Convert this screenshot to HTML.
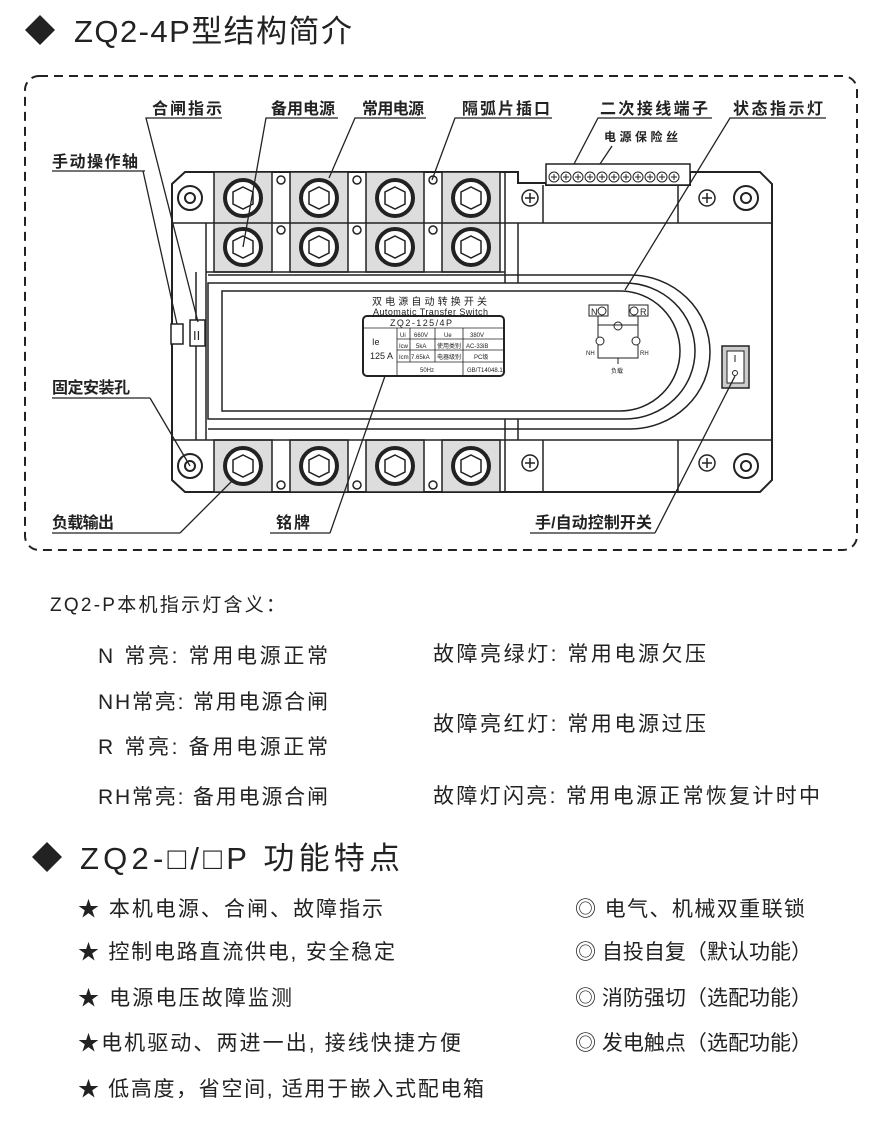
<!DOCTYPE html>
<html><head><meta charset="utf-8"><style>
body{margin:0;background:#fff;}
svg text{font-family:"Liberation Sans","Noto Sans CJK SC",sans-serif;fill:#222;}
</style></head><body>
<svg width="880" height="1136" viewBox="0 0 880 1136" xmlns="http://www.w3.org/2000/svg">
<polygon points="40,15 55,30 40,45 25,30" fill="#222"/>
<text x="74" y="42" font-size="31" textLength="278" lengthAdjust="spacing">ZQ2-4P型结构简介</text>
<rect x="25" y="76" width="832" height="474" rx="14" fill="none" stroke="#222" stroke-width="2" stroke-dasharray="9,6"/>

<g stroke="#222" stroke-width="2" fill="#fff">
<path d="M185,172 L518,172 L518,183 L546,183 L546,185 L690,185 L690,172 L760,172 L772,184 L772,480 L760,492 L185,492 L172,480 L172,184 Z"/>
</g>
<g fill="#ddd" stroke="#222" stroke-width="1.5">
<rect x="214" y="172" width="58" height="100"/>
<rect x="290" y="172" width="58" height="100"/>
<rect x="366" y="172" width="58" height="100"/>
<rect x="442" y="172" width="58" height="100"/>
<rect x="214" y="440" width="58" height="52"/>
<rect x="290" y="440" width="58" height="52"/>
<rect x="366" y="440" width="58" height="52"/>
<rect x="442" y="440" width="58" height="52"/>
</g>
<g stroke="#222" stroke-width="1.5" fill="none">
<line x1="172" y1="223" x2="772" y2="223"/>
<line x1="172" y1="440" x2="772" y2="440"/>
<line x1="505" y1="172" x2="505" y2="492"/>
<line x1="518" y1="223" x2="518" y2="440"/>
<line x1="206" y1="223" x2="206" y2="440"/>
<line x1="196" y1="272" x2="196" y2="440"/>
<line x1="678" y1="185" x2="678" y2="223"/>
<line x1="678" y1="440" x2="678" y2="492"/>
<line x1="543" y1="185" x2="543" y2="223"/>
<line x1="543" y1="440" x2="543" y2="492"/>
<line x1="206" y1="272" x2="505" y2="272"/>
</g>
<path d="M208,283 L625,283 A70,68 0 0 1 625,419 L208,419 Z" fill="#fff" stroke="#222" stroke-width="1.5"/>
<path d="M208,275 L630,275 A80,77 0 0 1 630,429 L208,429" fill="none" stroke="#222" stroke-width="1.5"/>
<path d="M222,291 L620,291 A60,60 0 0 1 620,411 L222,411 Z" fill="#fff" stroke="#222" stroke-width="1.5"/>
<g fill="#fff" stroke="#222" stroke-width="2">
<circle cx="190" cy="198" r="12"/><circle cx="190" cy="198" r="5"/>
<circle cx="746" cy="198" r="12"/><circle cx="746" cy="198" r="5"/>
<circle cx="190" cy="466" r="12"/><circle cx="190" cy="466" r="5"/>
<circle cx="746" cy="466" r="12"/><circle cx="746" cy="466" r="5"/>
</g>
<g fill="#fff" stroke="#222" stroke-width="1.5">
<circle cx="530" cy="198" r="8"/><circle cx="707" cy="198" r="8"/>
<circle cx="530" cy="463" r="8"/><circle cx="707" cy="463" r="8"/>
</g>
<g stroke="#222" stroke-width="1.5">
<line x1="525" y1="198" x2="535" y2="198"/><line x1="530" y1="193" x2="530" y2="203"/>
<line x1="702" y1="198" x2="712" y2="198"/><line x1="707" y1="193" x2="707" y2="203"/>
<line x1="525" y1="463" x2="535" y2="463"/><line x1="530" y1="458" x2="530" y2="468"/>
<line x1="702" y1="463" x2="712" y2="463"/><line x1="707" y1="458" x2="707" y2="468"/>
</g>
<g fill="#fff" stroke="#222">
<circle cx="243" cy="198" r="18" stroke-width="4"/><circle cx="319" cy="198" r="18" stroke-width="4"/><circle cx="395" cy="198" r="18" stroke-width="4"/><circle cx="471" cy="198" r="18" stroke-width="4"/>
<circle cx="243" cy="247" r="18" stroke-width="4"/><circle cx="319" cy="247" r="18" stroke-width="4"/><circle cx="395" cy="247" r="18" stroke-width="4"/><circle cx="471" cy="247" r="18" stroke-width="4"/>
<circle cx="243" cy="466" r="18" stroke-width="4"/><circle cx="319" cy="466" r="18" stroke-width="4"/><circle cx="395" cy="466" r="18" stroke-width="4"/><circle cx="471" cy="466" r="18" stroke-width="4"/>
</g>
<g fill="none" stroke="#222" stroke-width="1.5">
<path d="M243,187 L253,192 L253,204 L243,209 L233,204 L233,192 Z"/>
<path d="M319,187 L329,192 L329,204 L319,209 L309,204 L309,192 Z"/>
<path d="M395,187 L405,192 L405,204 L395,209 L385,204 L385,192 Z"/>
<path d="M471,187 L481,192 L481,204 L471,209 L461,204 L461,192 Z"/>
<path d="M243,236 L253,241 L253,253 L243,258 L233,253 L233,241 Z"/>
<path d="M319,236 L329,241 L329,253 L319,258 L309,253 L309,241 Z"/>
<path d="M395,236 L405,241 L405,253 L395,258 L385,253 L385,241 Z"/>
<path d="M471,236 L481,241 L481,253 L471,258 L461,253 L461,241 Z"/>
<path d="M243,455 L253,460 L253,472 L243,477 L233,472 L233,460 Z"/>
<path d="M319,455 L329,460 L329,472 L319,477 L309,472 L309,460 Z"/>
<path d="M395,455 L405,460 L405,472 L395,477 L385,472 L385,460 Z"/>
<path d="M471,455 L481,460 L481,472 L471,477 L461,472 L461,460 Z"/>
<circle cx="281" cy="180" r="4"/><circle cx="357" cy="180" r="4"/><circle cx="433" cy="180" r="4"/>
<circle cx="281" cy="230" r="4"/><circle cx="357" cy="230" r="4"/><circle cx="433" cy="230" r="4"/>
<circle cx="281" cy="485" r="4"/><circle cx="357" cy="485" r="4"/><circle cx="433" cy="485" r="4"/>
</g>
<rect x="546" y="164" width="144" height="21" fill="#fff" stroke="#222" stroke-width="1.5"/>
<g fill="#fff" stroke="#222" stroke-width="1">
<circle cx="554" cy="177" r="5"/><circle cx="566" cy="177" r="5"/><circle cx="578" cy="177" r="5"/><circle cx="590" cy="177" r="5"/><circle cx="602" cy="177" r="5"/><circle cx="614" cy="177" r="5"/><circle cx="626" cy="177" r="5"/><circle cx="638" cy="177" r="5"/><circle cx="650" cy="177" r="5"/><circle cx="662" cy="177" r="5"/><circle cx="674" cy="177" r="5"/>
</g>
<g stroke="#222" stroke-width="1">
<path d="M551,177h6M554,174v6M563,177h6M566,174v6M575,177h6M578,174v6M587,177h6M590,174v6M599,177h6M602,174v6M611,177h6M614,174v6M623,177h6M626,174v6M635,177h6M638,174v6M647,177h6M650,174v6M659,177h6M662,174v6M671,177h6M674,174v6"/>
</g>
<rect x="171" y="324" width="12" height="20" fill="#fff" stroke="#222" stroke-width="1.5"/>
<rect x="190" y="320" width="15" height="26" fill="#fff" stroke="#222" stroke-width="1.5"/>
<text x="193" y="340" font-size="13" font-family="Liberation Serif">II</text>
<text x="372" y="305" font-size="10" textLength="115" lengthAdjust="spacing">双电源自动转换开关</text>
<text x="373" y="315" font-size="9" font-family="Liberation Serif" textLength="115">Automatic Transfer Switch</text>
<rect x="363" y="316" width="141" height="60" rx="4" fill="#fff" stroke="#222" stroke-width="2"/>
<g stroke="#222" stroke-width="0.8">
<line x1="363" y1="328" x2="504" y2="328"/>
<line x1="397" y1="328" x2="397" y2="376"/>
<line x1="397" y1="339" x2="504" y2="339"/><line x1="397" y1="350" x2="504" y2="350"/><line x1="397" y1="362" x2="504" y2="362"/>
<line x1="410" y1="328" x2="410" y2="362"/><line x1="435" y1="328" x2="435" y2="362"/><line x1="463" y1="328" x2="463" y2="376"/>
</g>
<text x="390" y="326" font-size="9" textLength="62">ZQ2-125/4P</text>
<g font-size="6">
<text x="400" y="337">Ui</text><text x="414" y="337">660V</text><text x="444" y="337">Ue</text><text x="470" y="337">380V</text>
<text x="399" y="348">Icw</text><text x="416" y="348">5kA</text><text x="437" y="348">使用类别</text><text x="466" y="348">AC-33iB</text>
<text x="399" y="359">Icm</text><text x="411" y="359">7.65kA</text><text x="437" y="359">电器级别</text><text x="474" y="359">PC级</text>
<text x="420" y="372">50Hz</text><text x="467" y="372">GB/T14048.11</text>
</g>
<text x="372" y="345" font-size="9">Ie</text>
<text x="370" y="359" font-size="9">125 A</text>
<g fill="#fff" stroke="#222" stroke-width="1">
<rect x="589" y="305" width="19" height="11"/><rect x="629" y="305" width="19" height="11"/>
<circle cx="602" cy="311" r="4"/><circle cx="634" cy="311" r="4"/>
<circle cx="618" cy="326" r="4"/><circle cx="600" cy="341" r="4"/><circle cx="636" cy="341" r="4"/>
</g>
<g stroke="#222" stroke-width="1" fill="none">
<path d="M598,316 V337 M638,316 V337 M598,325 H638 M598,345 V358 H638 V345 M618,358 V364"/>
</g>
<text x="591" y="315" font-size="9">N</text><text x="640" y="315" font-size="9">R</text>
<text x="586" y="355" font-size="6">NH</text><text x="640" y="355" font-size="6">RH</text>
<text x="611" y="373" font-size="6">负载</text>
<rect x="722" y="346" width="27" height="42" fill="#ccc" stroke="#222" stroke-width="1.5"/>
<rect x="727" y="351" width="17" height="32" fill="#fff" stroke="#222" stroke-width="1"/>
<line x1="735" y1="355" x2="735" y2="362" stroke="#222"/><circle cx="735" cy="373" r="2.5" fill="none" stroke="#222"/>

<g font-size="16" font-weight="bold">
<text x="152" y="114" textLength="70" lengthAdjust="spacing">合闸指示</text>
<text x="271" y="114" textLength="64" lengthAdjust="spacing">备用电源</text>
<text x="362" y="114" textLength="62" lengthAdjust="spacing">常用电源</text>
<text x="462" y="114" textLength="88" lengthAdjust="spacing">隔弧片插口</text>
<text x="600" y="114" textLength="108" lengthAdjust="spacing">二次接线端子</text>
<text x="733" y="114" textLength="90" lengthAdjust="spacing">状态指示灯</text>
<text x="52" y="167" textLength="86" lengthAdjust="spacing">手动操作轴</text>
<text x="52" y="393" textLength="78" lengthAdjust="spacing">固定安装孔</text>
<text x="52" y="528" textLength="62" lengthAdjust="spacing">负载输出</text>
<text x="276" y="528" textLength="34" lengthAdjust="spacing">铭牌</text>
<text x="535" y="528" textLength="117" lengthAdjust="spacing">手/自动控制开关</text>
</g>
<text x="604" y="141" font-size="12" font-weight="bold" textLength="74" lengthAdjust="spacing">电源保险丝</text>
<g stroke="#222" stroke-width="1.3" fill="none">
<path d="M222,118 H146 L198,322"/>
<path d="M338,118 H266 L243,247"/>
<path d="M426,118 H355 L329,178"/>
<path d="M552,118 H455 L432,180"/>
<path d="M712,118 H598 L574,164"/>
<path d="M612,146 L600,164"/>
<path d="M826,118 H730 L625,290"/>
<path d="M145,171 H52 M143,171 L177,324"/>
<path d="M150,398 H52 M150,398 L190,466"/>
<path d="M180,533 H52 M180,533 L233,480"/>
<path d="M330,533 H270 M330,533 L385,376"/>
<path d="M655,533 H530 M655,533 L735,376"/>
</g>

<text x="50" y="611" font-size="19" textLength="235" lengthAdjust="spacing">ZQ2-P本机指示灯含义：</text>
<g font-size="21">
<text x="98" y="663" textLength="230" lengthAdjust="spacing">N 常亮: 常用电源正常</text>
<text x="98" y="709" textLength="230" lengthAdjust="spacing">NH常亮: 常用电源合闸</text>
<text x="98" y="754" textLength="230" lengthAdjust="spacing">R 常亮: 备用电源正常</text>
<text x="98" y="804" textLength="230" lengthAdjust="spacing">RH常亮: 备用电源合闸</text>
<text x="433" y="661" textLength="273" lengthAdjust="spacing">故障亮绿灯: 常用电源欠压</text>
<text x="433" y="731" textLength="273" lengthAdjust="spacing">故障亮红灯: 常用电源过压</text>
<text x="433" y="803" textLength="387" lengthAdjust="spacing">故障灯闪亮: 常用电源正常恢复计时中</text>
</g>

<polygon points="47,842 62,857 47,872 32,857" fill="#222"/>
<text x="80" y="869" font-size="31" textLength="320" lengthAdjust="spacing">ZQ2-□/□P 功能特点</text>
<g font-size="21">
<text x="78" y="916" textLength="305" lengthAdjust="spacing">★ 本机电源、合闸、故障指示</text>
<text x="78" y="959" textLength="317" lengthAdjust="spacing">★ 控制电路直流供电, 安全稳定</text>
<text x="78" y="1005" textLength="214" lengthAdjust="spacing">★ 电源电压故障监测</text>
<text x="78" y="1050" textLength="383" lengthAdjust="spacing">★电机驱动、两进一出, 接线快捷方便</text>
<text x="78" y="1096" textLength="406" lengthAdjust="spacing">★ 低高度，省空间, 适用于嵌入式配电箱</text>
<text x="575" y="916" textLength="230" lengthAdjust="spacing">◎ 电气、机械双重联锁</text>
<text x="575" y="959" textLength="237" lengthAdjust="spacing">◎ 自投自复（默认功能）</text>
<text x="575" y="1005" textLength="237" lengthAdjust="spacing">◎ 消防强切（选配功能）</text>
<text x="575" y="1050" textLength="237" lengthAdjust="spacing">◎ 发电触点（选配功能）</text>
</g>
</svg>
</body></html>
